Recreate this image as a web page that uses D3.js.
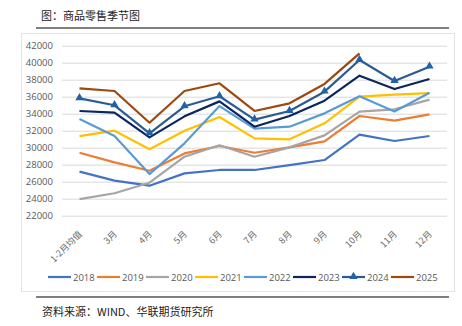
<!DOCTYPE html>
<html>
<head>
<meta charset="utf-8">
<script src="https://cdn.jsdelivr.net/npm/d3@7"></script>
<style>
  body { margin: 0; background: #fff; }
  svg { display: block; }
</style>
</head>
<body>
<svg id="chart"></svg>
<script>
// data
const months = ['1-2月均值', '3月', '4月', '5月', '6月', '7月', '8月', '9月', '10月', '11月', '12月'];
const years = ['2018', '2019', '2020', '2021', '2022', '2023', '2024', '2025'];
const v2018 = [27180, 26120, 25530, 26980, 27380, 27380, 27960, 28550, 31530, 30790, 31380];
const v2019 = [29410, 28280, 27290, 29330, 30200, 29410, 30040, 30750, 33730, 33180, 33930];
const v2020 = [23960, 24640, 25880, 28940, 30280, 28940, 30040, 31450, 34240, 34520, 35650];
const v2021 = [31370, 32000, 29810, 32000, 33610, 31100, 30990, 32870, 36000, 36240, 36430];
const v2022 = [33370, 31380, 26900, 30510, 34900, 32240, 32470, 34040, 36050, 34270, 36470];
const v2023 = [34320, 34120, 31220, 33690, 35450, 32470, 33730, 35530, 38470, 36900, 38080];
const v2024 = [35810, 34990, 31690, 34870, 36050, 33300, 34320, 36590, 40320, 37850, 39530];
const v2025 = [36990, 36670, 32940, 36670, 37580, 34320, 35220, 37500, 41100];
const yTicks = d3.range(22000, 42001, 2000);

const seriesValues = [v2018, v2019, v2020, v2021, v2022, v2023, v2024, v2025];
const colors = ['#4472C4', '#ED7D31', '#A5A5A5', '#FFC000', '#5B9BD5', '#0B2560', '#2B5B92', '#9E480E'];

// drawing constants
const W = 462, H = 326;
const PLOT = { left: 62, right: 447, top: 45.7, bottom: 215.7 };
const CJK = '"Noto Sans CJK SC", sans-serif';

const svg = d3.select('#chart').attr('width', W).attr('height', H);

// title + rules
svg.append('text')
  .attr('x', 41).attr('y', 20)
  .attr('font-family', CJK).attr('font-size', 11).attr('fill', '#222')
  .text('图：商品零售季节图');
svg.append('line')
  .attr('x1', 36).attr('x2', 449).attr('y1', 28).attr('y2', 28)
  .attr('stroke', '#555').attr('stroke-width', 1.5);

// chart frame
svg.append('rect')
  .attr('x', 21.5).attr('y', 33.5).attr('width', 433).attr('height', 258)
  .attr('fill', '#fff').attr('stroke', '#e3e3e3');

svg.append('line')
  .attr('x1', 36).attr('x2', 449).attr('y1', 297).attr('y2', 297)
  .attr('stroke', '#555').attr('stroke-width', 1.5);
svg.append('text')
  .attr('x', 42).attr('y', 316)
  .attr('font-family', CJK).attr('font-size', 11).attr('fill', '#222')
  .text('资料来源：WIND、华联期货研究所');

// scales
const x = d3.scaleBand().domain(months).range([PLOT.left, PLOT.right]);
const y = d3.scaleLinear().domain([22000, 42000]).range([PLOT.bottom, PLOT.top]);
const cx = m => x(m) + x.bandwidth() / 2;

// y axis with gridlines
const yAxis = svg.append('g')
  .attr('transform', `translate(${PLOT.left},0)`)
  .call(d3.axisLeft(y).tickValues(yTicks).tickFormat(d3.format('d'))
    .tickSize(-(PLOT.right - PLOT.left)).tickPadding(9));
yAxis.select('.domain').remove();
yAxis.selectAll('line').attr('stroke', '#d9d9d9');
yAxis.selectAll('text')
  .attr('fill', '#595959').attr('font-size', 9.5).attr('font-family', '"Open Sans", sans-serif');

// x axis, rotated labels
const xAxis = svg.append('g')
  .attr('transform', `translate(0,${PLOT.bottom})`)
  .call(d3.axisBottom(x).tickSize(0).tickPadding(0));
xAxis.select('.domain').remove();
xAxis.selectAll('text')
  .attr('fill', '#6b6b6b').attr('font-size', 9).attr('font-family', CJK)
  .attr('text-anchor', 'end')
  .attr('dy', 0)
  .attr('transform', 'translate(3,19) rotate(-45)');

// lines
const line = d3.line()
  .x((d, i) => cx(months[i]))
  .y(d => y(d));

seriesValues.forEach((vals, k) => {
  svg.append('path')
    .datum(vals)
    .attr('fill', 'none')
    .attr('stroke', colors[k])
    .attr('stroke-width', 2.2)
    .attr('stroke-linejoin', 'round')
    .attr('d', line);
});

// triangle markers for 2024
const tri = d3.symbol().type(d3.symbolTriangle).size(30);
svg.append('g').selectAll('path')
  .data(v2024)
  .join('path')
  .attr('d', tri)
  .attr('fill', '#1F62A8')
  .attr('transform', (d, i) => `translate(${cx(months[i])},${y(d) - 0.5})`);

// legend
const legend = svg.append('g').attr('transform', 'translate(48,277)');
years.forEach((yr, k) => {
  const g = legend.append('g').attr('transform', `translate(${k * 49},0)`);
  g.append('line')
    .attr('x1', 0).attr('x2', 23).attr('y1', 0).attr('y2', 0)
    .attr('stroke', colors[k]).attr('stroke-width', 2.2);
  if (yr === '2024') {
    g.append('path').attr('d', tri).attr('fill', '#1F62A8')
      .attr('transform', 'translate(11.5,-0.5)');
  }
  g.append('text')
    .attr('x', 25).attr('y', 3.5)
    .attr('font-size', 9.5).attr('fill', '#595959')
    .attr('font-family', '"Open Sans", sans-serif')
    .text(yr);
});
</script>
</body>
</html>
